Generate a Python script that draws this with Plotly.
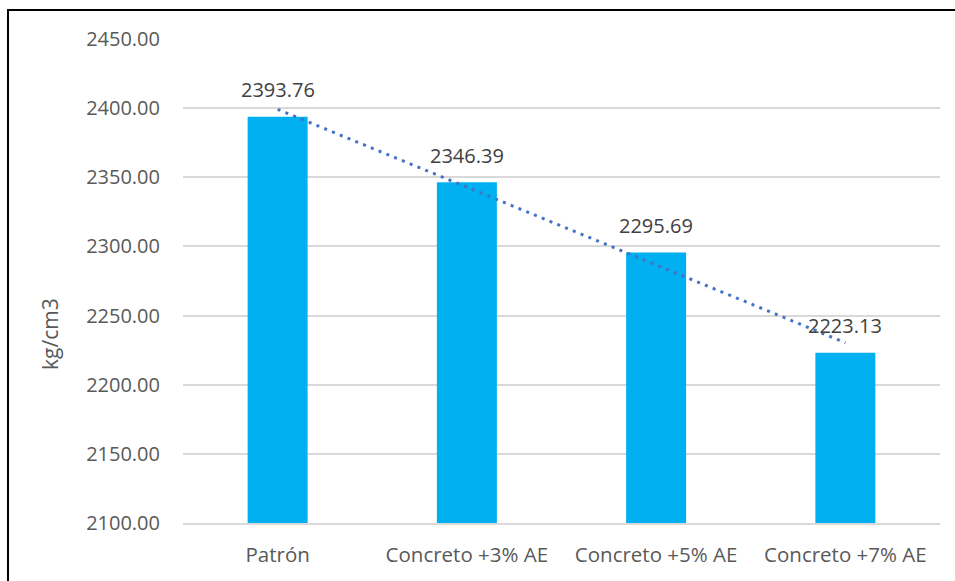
import numpy as np
import plotly.graph_objects as go

categories = ["Patrón", "Concreto +3% AE", "Concreto +5% AE", "Concreto +7% AE"]
values = [2393.76, 2346.39, 2295.69, 2223.13]
y_ticks = [2100, 2150, 2200, 2250, 2300, 2350, 2400, 2450]
y_title = "kg/cm3"

# linear trendline (least squares over category index)
idx = np.arange(1, len(values) + 1)
slope, intercept = np.polyfit(idx, values, 1)
trend = slope * idx + intercept

W, H = 955, 581
L, R, T, B = 183, 15, 39, 58

fig = go.Figure()
fig.add_trace(go.Bar(x=categories, y=values, marker=dict(color="#00B0F0", line=dict(width=0)),
                     showlegend=False, hoverinfo="x+y"))
fig.add_trace(go.Scatter(x=categories, y=trend, mode="lines",
                         line=dict(color="#4472C4", width=3, dash="3px,5.4px"),
                         showlegend=False, hoverinfo="skip"))

for c, v in zip(categories, values):
    fig.add_annotation(x=c, y=v, text=f"{v:.2f}", showarrow=False, yanchor="middle",
                       yshift=27, font=dict(family="Open Sans", size=20, color="#404040"))

fig.add_annotation(xref="paper", yref="paper", x=(50 - L) / (W - L - R), y=(H - B - 334) / (H - T - B),
                   text=y_title, textangle=-90, showarrow=False, xanchor="center", yanchor="middle",
                   font=dict(family="Open Sans", size=21, color="#595959"))

plot_w = W - L - R
plot_h = H - T - B
fig.add_shape(type="rect", xref="paper", yref="paper",
              x0=(8 - L) / plot_w, x1=(W + 20 - L) / plot_w,
              y0=(H - B - (H + 20)) / plot_h, y1=(H - B - 10) / plot_h,
              line=dict(color="#000000", width=2), fillcolor="rgba(0,0,0,0)", layer="above")

fig.update_layout(
    width=W, height=H,
    margin=dict(l=L, r=R, t=T, b=B, pad=0),
    paper_bgcolor="white", plot_bgcolor="white",
    bargap=0.683,
    xaxis=dict(showgrid=False, showline=True, linecolor="#D9D9D9", linewidth=1.5,
               ticks="", ticklabelstandoff=13,
               tickfont=dict(family="Open Sans", size=20.5, color="#595959")),
    yaxis=dict(range=[2100, 2450], tickvals=y_ticks, tickformat=".2f",
               showgrid=True, gridcolor="#D9D9D9", gridwidth=1.5, zeroline=False,
               showline=False, ticks="", ticklabelstandoff=22,
               tickfont=dict(family="Open Sans", size=20, color="#595959")),
    font=dict(family="Open Sans"),
)

fig.write_html("out.html")
